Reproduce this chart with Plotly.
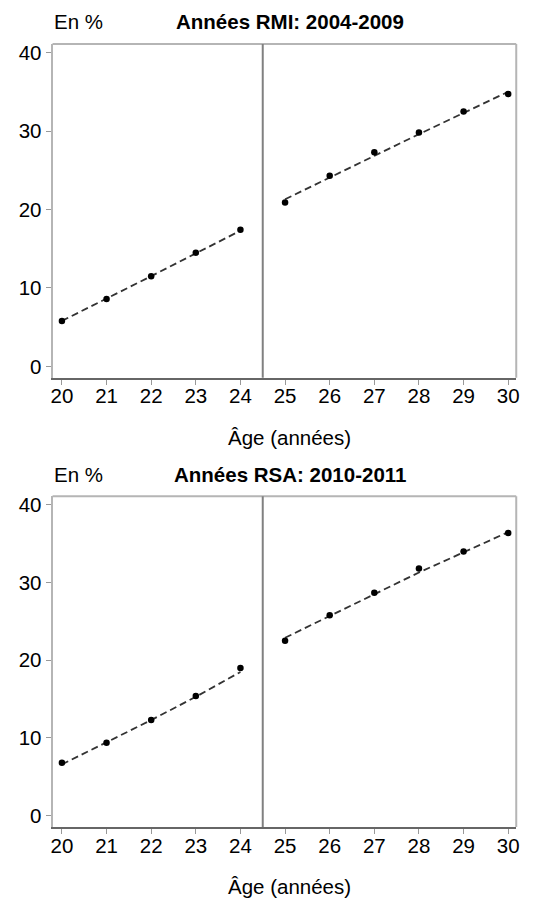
import plotly.graph_objects as go

ages_left = [20, 21, 22, 23, 24]
ages_right = [25, 26, 27, 28, 29, 30]

# Panel 1: Années RMI 2004-2009
rmi_left = [5.8, 8.6, 11.5, 14.5, 17.4]
rmi_right = [20.9, 24.3, 27.3, 29.8, 32.5, 34.7]
rmi_fit_left = [5.8, 8.6, 11.5, 14.4, 17.3]
rmi_fit_right = [21.3, 24.1, 26.9, 29.6, 32.3, 35.0]

# Panel 2: Années RSA 2010-2011
rsa_left = [6.8, 9.4, 12.3, 15.4, 19.0]
rsa_right = [22.5, 25.8, 28.7, 31.8, 34.0, 36.4]
rsa_fit_left = [6.6, 9.4, 12.3, 15.3, 18.5]
rsa_fit_right = [22.9, 25.7, 28.5, 31.3, 33.9, 36.5]

titles = ["Années RMI: 2004-2009", "Années RSA: 2010-2011"]
xticks = list(range(20, 31))
yticks = [0, 10, 20, 30, 40]
cutoff = 24.5

FONT = "Liberation Sans, Arial, Helvetica, sans-serif"
FS = 20.5

fig = go.Figure()

panels = [
    (rmi_left, rmi_right, rmi_fit_left, rmi_fit_right, "x", "y"),
    (rsa_left, rsa_right, rsa_fit_left, rsa_fit_right, "x2", "y2"),
]

for pl, pr, fl, fr, xa, ya in panels:
    for xs, fit in ((ages_left, fl), (ages_right, fr)):
        fig.add_trace(go.Scatter(x=xs, y=fit, mode="lines", xaxis=xa, yaxis=ya,
                                 line=dict(color="#333333", width=1.8, dash="7px,4px"),
                                 showlegend=False, hoverinfo="skip"))
    for xs, pts in ((ages_left, pl), (ages_right, pr)):
        fig.add_trace(go.Scatter(x=xs, y=pts, mode="markers", xaxis=xa, yaxis=ya,
                                 marker=dict(color="black", size=6.5),
                                 showlegend=False))

doms = [[0.5831, 0.9545], [0.0835, 0.4512]]
xr = [19.79, 30.18]
yr = [-1.45, 41.1]

axis_common = dict(showgrid=False, zeroline=False, ticks="outside", ticklen=5,
                   tickcolor="#999999", tickwidth=1.2,
                   tickfont=dict(family=FONT, size=FS, color="black"))

layout = dict(
    width=545, height=902,
    margin=dict(l=0, r=0, t=0, b=0),
    paper_bgcolor="white", plot_bgcolor="white",
    font=dict(family=FONT, size=FS, color="black"),
    showlegend=False,
)

for i, (xa, ya) in enumerate((("xaxis", "yaxis"), ("xaxis2", "yaxis2"))):
    layout[xa] = dict(axis_common, domain=[0.0936, 0.9523], range=xr,
                      tickvals=xticks, showline=True, linecolor="#666666",
                      linewidth=2, anchor="y" if i == 0 else "y2",
                      ticklabelstandoff=-6)
    layout[ya] = dict(axis_common, domain=doms[i], range=yr, tickvals=yticks,
                      showline=True, linecolor="#b5b5b5", linewidth=2,
                      anchor="x" if i == 0 else "x2")

fig.update_layout(**layout)

shapes = []
annotations = []
for i in range(2):
    xref = "x" if i == 0 else "x2"
    yref = "y" if i == 0 else "y2"
    shapes.append(dict(type="line", xref=xref + " domain", yref=yref + " domain",
                       x0=0, x1=1, y0=1, y1=1, line=dict(color="#b5b5b5", width=2)))
    shapes.append(dict(type="line", xref=xref + " domain", yref=yref + " domain",
                       x0=1, x1=1, y0=0, y1=1, line=dict(color="#b5b5b5", width=2)))
    shapes.append(dict(type="line", xref=xref, yref=yref + " domain",
                       x0=cutoff, x1=cutoff, y0=0, y1=1,
                       line=dict(color="#808080", width=2)))
    top = doms[i][1]
    bottom = doms[i][0]
    annotations.append(dict(text="<b>" + titles[i] + "</b>", xref="paper", yref="paper",
                            x=290.5 / 545, y=top + 22 / 902, xanchor="center",
                            yanchor="middle", showarrow=False,
                            font=dict(family=FONT, size=FS, color="black")))
    annotations.append(dict(text="En %", xref="paper", yref="paper",
                            x=50 / 545, y=top + 22 / 902, xanchor="left",
                            yanchor="middle", showarrow=False,
                            font=dict(family=FONT, size=FS, color="black")))
    annotations.append(dict(text="Âge (années)", xref="paper", yref="paper",
                            x=290.5 / 545, y=bottom - 60 / 902, xanchor="center",
                            yanchor="middle", showarrow=False,
                            font=dict(family=FONT, size=FS, color="black")))

fig.update_layout(shapes=shapes, annotations=annotations)

fig.write_html("out.html", config={"displayModeBar": False},
               post_script="document.body.style.margin='0';")
